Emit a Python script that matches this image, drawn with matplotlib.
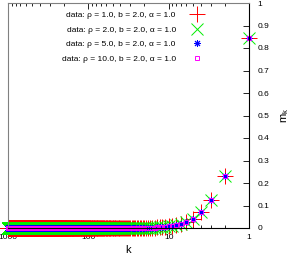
import numpy as np
import matplotlib
matplotlib.use("Agg")
import matplotlib.pyplot as plt
from matplotlib.ticker import LogLocator, NullFormatter, FixedLocator, FixedFormatter

plt.rcParams['font.family'] = ['Liberation Sans', 'DejaVu Sans']
plt.rcParams['font.size'] = 6
plt.rcParams['mathtext.default'] = 'regular'

# k = 1..20, beyond that everything sits on zero
k_head = [1, 2, 3, 4, 5, 6, 7, 8, 9, 10, 11, 12, 13, 14, 15, 16, 17, 18, 19, 20]
m_rho1 = [0.844, 0.231, 0.124, 0.071, 0.042, 0.026, 0.017, 0.012, 0.009, 0.007,
          0.005, 0.004, 0.003, 0.0025, 0.002, 0.0015, 0.0012, 0.001, 0.001, 0.001]
m_rho2 = [0.844, 0.231, 0.124, 0.071, 0.042, 0.026, 0.017, 0.012, 0.009, 0.007,
          0.005, 0.004, 0.003, 0.0025, 0.002, 0.0015, 0.0012, 0.001, 0.001, 0.001]
m_rho5 = [0.844, 0.231, 0.124, 0.071, 0.042, 0.026, 0.017, 0.012, 0.009, 0.007,
          0.005, 0.004, 0.003, 0.0025, 0.002, 0.0015, 0.0012, 0.001, 0.001, 0.001]
m_rho10 = [0.844, 0.231, 0.124, 0.071, 0.042, 0.026, 0.017, 0.012, 0.009, 0.007,
           0.005, 0.004, 0.003, 0.0025, 0.002, 0.0015, 0.0012, 0.001, 0.001, 0.001]
k_max = 1000
m_tail = 0.0

labels = ['data: ρ = 1.0, b = 2.0, α = 1.0',
          'data: ρ = 2.0, b = 2.0, α = 1.0',
          'data: ρ = 5.0, b = 2.0, α = 1.0',
          'data: ρ = 10.0, b = 2.0, α = 1.0']
xtick_vals = [1000, 100, 10, 1]
xtick_labels = ['1000', '100', '10', '1']
ytick_vals = [0, 0.1, 0.2, 0.3, 0.4, 0.5, 0.6, 0.7, 0.8, 0.9, 1]
ytick_labels = ['0', '0.1', '0.2', '0.3', '0.4', '0.5', '0.6', '0.7', '0.8', '0.9', '1']

k_all = np.concatenate([k_head, np.arange(len(k_head) + 1, k_max + 1)])
tail = [m_tail] * (k_max - len(k_head))

fig = plt.figure(figsize=(2.91, 2.54), dpi=100)
ax = fig.add_axes([8 / 291, 26 / 254, 241 / 291, 225 / 254])

styles = [
    dict(marker='+', color='#ff0000', mec='#ff0000', ms=11, mew=0.7),
    dict(marker='x', color='#00ee00', ms=9, mew=0.7),
    dict(marker=(8, 2, 0), color='#0000ff', ms=5, mew=0.7),
    dict(marker='s', color='#ff00ff', ms=3, mew=0.7, mfc='none'),
]
for vals, lab, st in zip([m_rho1, m_rho2, m_rho5, m_rho10], labels, styles):
    ax.plot(k_all, list(vals) + tail, linestyle='none', label=lab, clip_on=False, **st)

ax.set_xscale('log')
ax.set_xlim(1000, 1)
ax.set_ylim(0, 1)

ax.xaxis.set_major_locator(FixedLocator(xtick_vals))
ax.xaxis.set_major_formatter(FixedFormatter(xtick_labels))
ax.xaxis.set_minor_locator(LogLocator(base=10, subs=np.arange(2, 10)))
ax.xaxis.set_minor_formatter(NullFormatter())
ax.tick_params(axis='x', which='both', direction='in', top=True, bottom=True, pad=4.5)
ax.tick_params(axis='x', which='major', length=4, width=0.6)
ax.tick_params(axis='x', which='minor', length=2, width=0.6)

ax.yaxis.tick_right()
ax.yaxis.set_label_position('right')
ax.set_yticks(ytick_vals)
ax.set_yticklabels(ytick_labels)
ax.tick_params(axis='y', which='both', direction='in', left=False, right=True,
               length=4, width=0.6, pad=6)

for side in ['left', 'top']:
    ax.spines[side].set_color('#808080')
for side in ['right', 'bottom']:
    ax.spines[side].set_color('black')
for sp in ax.spines.values():
    sp.set_linewidth(0.8)

ax.set_xlabel('k', fontsize=8, labelpad=3)
ax.set_ylabel('$m_k$', fontsize=8, labelpad=7)

ax.legend(loc='upper right', bbox_to_anchor=(0.80, 0.962), frameon=False,
          markerfirst=False, handlelength=1.0, handletextpad=2.0,
          labelspacing=0.8, borderpad=0, borderaxespad=0, fontsize=6)

fig.savefig('out.png', dpi=100)
